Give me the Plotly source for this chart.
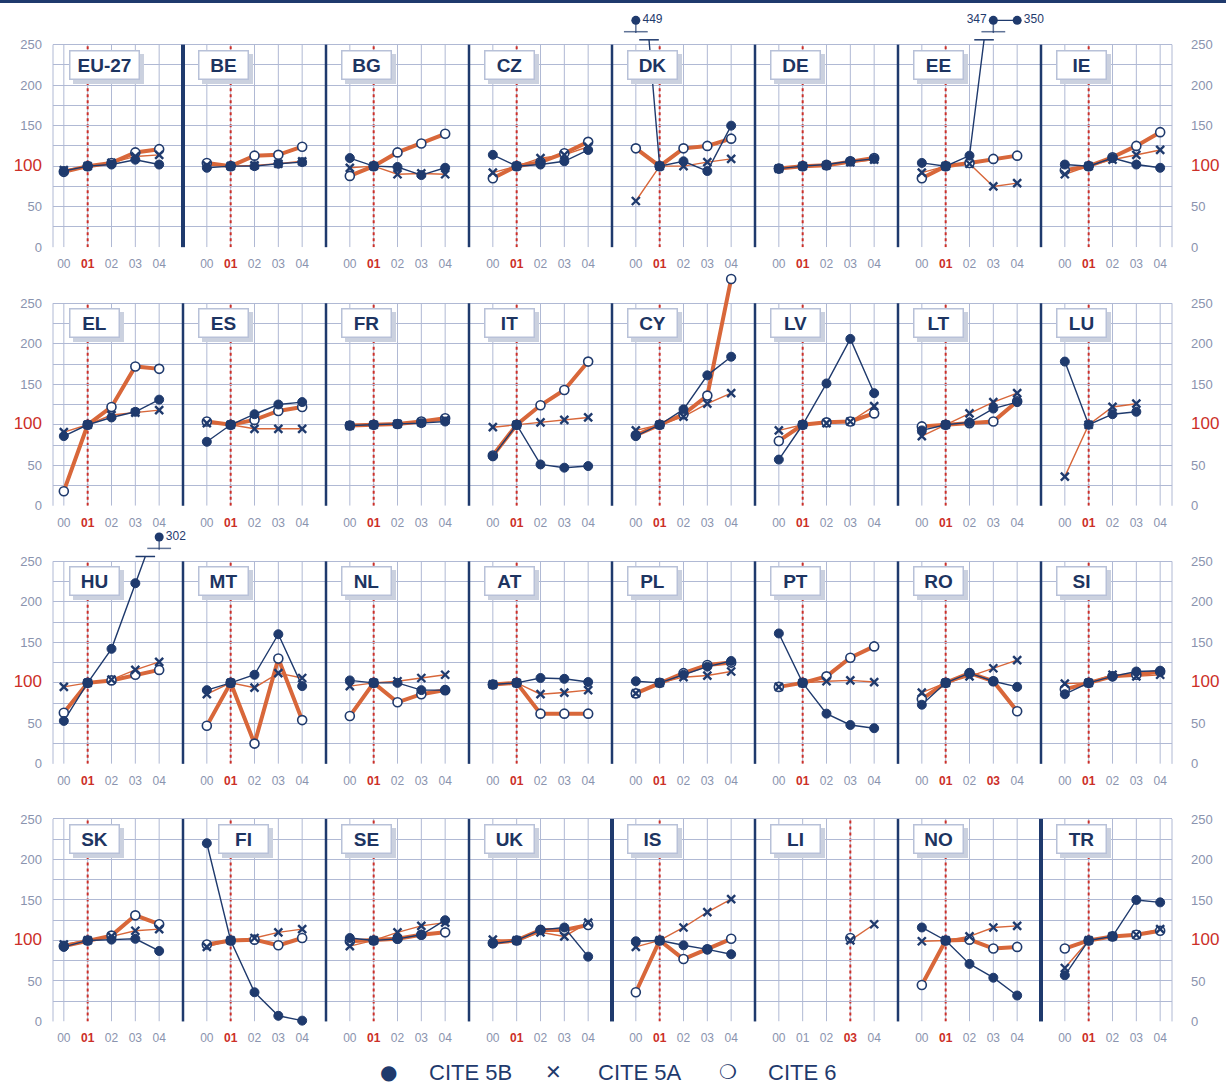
import plotly.graph_objects as go

# ---------------- data ----------------
PANELS = [
    ["EU-27", "BE", "BG", "CZ", "DK", "DE", "EE", "IE"],
    ["EL", "ES", "FR", "IT", "CY", "LV", "LT", "LU"],
    ["HU", "MT", "NL", "AT", "PL", "PT", "RO", "SI"],
    ["SK", "FI", "SE", "UK", "IS", "LI", "NO", "TR"],
]
YEAR_LABELS = ["00", "01", "02", "03", "04"]

cite_5b = {
    "EU-27": [94, 100, 102, 108, 102], "BE": [98, 100, 100, 103, 105],
    "BG": [110, 100, 99, 89, 98], "CZ": [114, 100, 102, 106, 120],
    "DK": [449, 100, 106, 94, 150], "DE": [97, 100, 102, 106, 109],
    "EE": [104, 100, 113, 347, 350], "IE": [102, 100, 110, 102, 98],
    "EL": [86, 100, 109, 116, 131], "ES": [79, 100, 113, 125, 128],
    "FR": [99, 100, 101, 102, 104], "IT": [61, 100, 51, 47, 49],
    "CY": [86, 100, 119, 161, 184], "LV": [57, 100, 151, 206, 139],
    "LT": [93, 100, 103, 120, 128], "LU": [178, 100, 113, 116, None],
    "HU": [53, 100, 142, 223, 302], "MT": [91, 100, 110, 160, 96],
    "NL": [103, 100, 100, 91, 91], "AT": [98, 100, 106, 105, 101],
    "PL": [102, 100, 110, 120, 127], "PT": [161, 100, 62, 48, 44],
    "RO": [73, 100, 112, 102, 95], "SI": [86, 100, 108, 114, 115],
    "SK": [92, 100, 101, 102, 87], "FI": [220, 100, 36, 7, 1],
    "SE": [103, 100, 102, 107, 125], "UK": [96, 100, 113, 116, 80],
    "IS": [99, 100, 94, 89, 83], "LI": [None, None, None, None, None],
    "NO": [116, 100, 71, 54, 32], "TR": [57, 100, 105, 150, 147],
}
cite_5a = {
    "EU-27": [95, 100, 104, 112, 114], "BE": [101, 100, 101, 103, 106],
    "BG": [98, 100, 90, 91, 90], "CZ": [92, 100, 110, 114, 124],
    "DK": [57, 100, 100, 105, 109], "DE": [97, 100, 101, 105, 108],
    "EE": [92, 100, 103, 75, 79], "IE": [90, 100, 108, 114, 120],
    "EL": [91, 100, 112, 115, 118], "ES": [102, 100, 95, 95, 95],
    "FR": [99, 100, 101, 103, 106], "IT": [97, 100, 103, 106, 109],
    "CY": [93, 100, 110, 126, 139], "LV": [93, 100, 102, 104, 123],
    "LT": [86, 100, 114, 128, 139], "LU": [36, 100, 122, 126, None],
    "HU": [95, 100, 104, 116, 126], "MT": [86, 100, 94, 112, 106],
    "NL": [96, 100, 102, 106, 110], "AT": [98, 100, 86, 88, 91],
    "PL": [87, 100, 107, 109, 114], "PT": [95, 100, 102, 103, 101],
    "RO": [88, 100, 108, 118, 128], "SI": [99, 100, 110, 108, 110],
    "SK": [95, 100, 105, 112, 114], "FI": [92, 100, 103, 110, 114],
    "SE": [93, 100, 110, 118, 122], "UK": [101, 100, 110, 105, 122],
    "IS": [92, 100, 116, 135, 151], "LI": [None, None, None, 100, 120],
    "NO": [99, 100, 105, 116, 118], "TR": [66, 100, 105, 107, 114],
}
cite_6 = {
    "EU-27": [93, 100, 104, 117, 121], "BE": [104, 100, 113, 114, 124],
    "BG": [88, 100, 117, 128, 140], "CZ": [85, 100, 105, 116, 130],
    "DK": [122, 100, 122, 125, 134], "DE": [97, 100, 101, 106, 110],
    "EE": [85, 100, 104, 109, 113], "IE": [95, 100, 111, 125, 142],
    "EL": [18, 100, 122, 172, 169], "ES": [104, 100, 106, 117, 122],
    "FR": [99, 100, 101, 104, 108], "IT": [62, 100, 124, 143, 178],
    "CY": [87, 100, 113, 136, 280], "LV": [80, 100, 103, 104, 114],
    "LT": [98, 100, 102, 104, 129], "LU": [None, None, None, None, None],
    "HU": [63, 100, 103, 110, 116], "MT": [47, 100, 25, 130, 54],
    "NL": [59, 100, 76, 86, 91], "AT": [98, 100, 62, 62, 62],
    "PL": [87, 100, 112, 122, 125], "PT": [95, 100, 108, 131, 145],
    "RO": [80, 100, 112, 102, 65], "SI": [92, 100, 108, 110, 114],
    "SK": [93, 100, 106, 131, 120], "FI": [95, 100, 101, 94, 103],
    "SE": [99, 100, 102, 107, 110], "UK": [97, 100, 113, 113, 119],
    "IS": [36, 100, 77, 89, 102], "LI": [None, None, None, 103, None],
    "NO": [45, 100, 101, 90, 92], "TR": [90, 100, 105, 107, 112],
}
BASE_YEAR = {"LI": "03"}            # default "01"
NO_BASE_LINE = ["PL", "UK"]
EXTRA_RED_TICKS = {"RO": ["03"]}
GROUP_START = ["BE", "IS", "TR"]    # thick separators before these
Y_TICKS = list(range(0, 251, 25))
Y_LABELS = ["0", "", "50", "", "100", "", "150", "", "200", "", "250"]
LEGEND = [("●", "CITE 5B"), ("✕", "CITE 5A"), ("❍", "CITE 6")]

# ---------------- style / geometry ----------------
W, H = 1226, 1090
NAVY = "#1f3a6d"
ORANGE = "#d8673a"
GRID = "#b0b9d4"
RED = "#cc2f28"
TICKGREY = "#8a93ae"
LABEL_COL = "#1d3461"
BOX_BORDER = "#b8c1d8"
SHADOW = "#cbd1df"
NARROW = "Liberation Sans Narrow, Arial Narrow, Liberation Sans, sans-serif"
BOLDF = "Liberation Sans, Arial, sans-serif"

PANEL_W = 143.0
FIRST_SEP = 183.0
UNIT = PANEL_W / 6
GRID_LEFT, GRID_RIGHT = 53.0, 1172.0
ZERO_PX = [249.0, 509.5, 769.5, 1029.0]
VPX = 0.816
GRID_TOP = 250
BREAK_AT = 300      # values above this are drawn with an axis break
CLIP_TOP = 256      # where a line to a broken value is cut
Y_TOP = 290
BROKEN_Y = 280
BAR_Y = 266
LABEL_TOP = 244
LABEL_X_DEFAULT = -0.38
LABEL_X = {"EU-27": 0.2, "EL": 0.2, "HU": 0.2, "SK": 0.2, "FI": 0.45}

SERIES = [
    (cite_6, dict(color=ORANGE, width=4),
     dict(symbol="circle", size=9, color="white", line=dict(color=NAVY, width=1.6))),
    (cite_5a, dict(color=ORANGE, width=1.4),
     dict(symbol="x-thin", size=8, color=NAVY, line=dict(color=NAVY, width=2.4))),
    (cite_5b, dict(color=NAVY, width=1.4),
     dict(symbol="circle", size=9, color=NAVY, line=dict(color=NAVY, width=1))),
]


def is_broken(v):
    return v is not None and v > BREAK_AT


def cut_line(vals):
    """Line through in-range values; segments towards broken values end at CLIP_TOP."""
    lx, ly, cuts = [], [], []
    for k, v in enumerate(vals):
        if v is None:
            lx.append(None); ly.append(None)
            continue
        prev = vals[k - 1] if k > 0 else None
        if is_broken(v):
            if prev is not None and not is_broken(prev):
                t = (CLIP_TOP - prev) / (v - prev)
                xi = (k - 1) + t
                lx += [xi, None]; ly += [CLIP_TOP, None]
                cuts.append(xi)
            continue
        if prev is not None and is_broken(prev):
            t = (CLIP_TOP - v) / (prev - v)
            xi = k - t
            lx += [None, xi]; ly += [None, CLIP_TOP]
            cuts.append(xi)
        lx.append(k); ly.append(v)
    return lx, ly, cuts


fig = go.Figure()
layout = dict(width=W, height=H, margin=dict(l=0, r=0, t=0, b=0),
              paper_bgcolor="white", plot_bgcolor="white", showlegend=False)
shapes, annotations = [], []

shapes.append(dict(type="rect", xref="paper", yref="paper", x0=0, x1=1,
                   y0=1 - 3 / H, y1=1, fillcolor=NAVY, line=dict(width=0), layer="above"))

xs = list(range(len(YEAR_LABELS)))

for r, row in enumerate(PANELS):
    z = ZERO_PX[r]
    ydom = [1 - z / H, 1 - (z - Y_TOP * VPX) / H]
    grid_y0, grid_y1 = 1 - z / H, 1 - (z - GRID_TOP * VPX) / H

    for gx in (GRID_LEFT, GRID_RIGHT):
        shapes.append(dict(type="line", xref="paper", yref="paper", x0=gx / W, x1=gx / W,
                           y0=grid_y0, y1=grid_y1, line=dict(color=GRID, width=1), layer="below"))

    for c, cc in enumerate(row):
        n = r * 8 + c + 1
        xa = "x" if n == 1 else f"x{n}"
        ya = "y" if n == 1 else f"y{n}"
        xkey = "xaxis" if n == 1 else f"xaxis{n}"
        ykey = "yaxis" if n == 1 else f"yaxis{n}"
        L = FIRST_SEP + PANEL_W * (c - 1)
        R = L + PANEL_W
        xr0, xr1 = -1.0, 5.0
        if c == 0:
            xr0 = -1 + (GRID_LEFT - L) / UNIT
            L = GRID_LEFT
        if c == 7:
            xr1 = 5 - (R - GRID_RIGHT) / UNIT
            R = GRID_RIGHT

        base = BASE_YEAR.get(cc, "01")
        reds = [base] + EXTRA_RED_TICKS.get(cc, [])
        ttext = [f"<b><span style='color:{RED}'>{y}</span></b>" if y in reds else y
                 for y in YEAR_LABELS]
        layout[xkey] = dict(domain=[L / W, R / W], range=[xr0, xr1], anchor=ya,
                            showgrid=False, zeroline=False, showline=False,
                            tickmode="array", tickvals=xs, ticktext=ttext, ticks="",
                            ticklabelstandoff=8,
                            tickfont=dict(family=NARROW, size=12, color=TICKGREY),
                            fixedrange=True)
        ylab = [f"<span style='color:{RED};font-size:17px'>{t}</span>" if t == "100" else t
                for t in Y_LABELS]
        layout[ykey] = dict(domain=ydom, range=[0, Y_TOP], anchor=xa,
                            tickmode="array", tickvals=Y_TICKS, ticktext=ylab,
                            showgrid=True, gridcolor=GRID, gridwidth=1,
                            zeroline=False, showline=False, ticks="",
                            showticklabels=(c in (0, 7)),
                            side="right" if c == 7 else "left",
                            ticklabelstandoff=18 if c == 7 else 10,
                            tickfont=dict(family=NARROW, size=13, color=TICKGREY),
                            fixedrange=True)

        for k in xs:
            shapes.append(dict(type="line", xref=xa, yref=ya, x0=k, x1=k, y0=0, y1=GRID_TOP,
                               line=dict(color=GRID, width=1), layer="below"))
        if cc not in NO_BASE_LINE:
            bk = YEAR_LABELS.index(base)
            shapes.append(dict(type="line", xref=xa, yref=ya, x0=bk, x1=bk, y0=0, y1=GRID_TOP,
                               line=dict(color=RED, width=2, dash="dot"), layer="below"))
        if c > 0:
            sx = (FIRST_SEP + PANEL_W * (c - 1)) / W
            shapes.append(dict(type="line", xref="paper", yref="paper", x0=sx, x1=sx,
                               y0=grid_y0, y1=grid_y1,
                               line=dict(color=NAVY, width=4 if cc in GROUP_START else 2.5),
                               layer="above"))

        # lines
        for s, lstyle, _ in SERIES:
            vals = s[cc]
            if all(v is None for v in vals):
                continue
            lx, ly, _c = cut_line(vals)
            fig.add_trace(go.Scatter(x=lx, y=ly, mode="lines", line=lstyle,
                                     xaxis=xa, yaxis=ya, hoverinfo="skip", connectgaps=False))
        # markers + axis-break decorations
        for s, lstyle, mstyle in SERIES:
            vals = s[cc]
            if all(v is None for v in vals):
                continue
            yd = [None if (v is None or is_broken(v)) else v for v in vals]
            fig.add_trace(go.Scatter(x=xs, y=yd, mode="markers", marker=mstyle,
                                     xaxis=xa, yaxis=ya, hoverinfo="skip", cliponaxis=False))
            brk = [k for k, v in enumerate(vals) if is_broken(v)]
            if not brk:
                continue
            col = lstyle["color"]
            yb = [BROKEN_Y if is_broken(v) else None for v in vals]
            fig.add_trace(go.Scatter(x=xs, y=yb, mode="lines+markers",
                                     line=dict(color=col, width=1.4),
                                     marker=dict(symbol="circle", size=9, color=col),
                                     xaxis=xa, yaxis=ya, hoverinfo="skip",
                                     connectgaps=False, cliponaxis=False))
            for k in brk:
                nxt_broken = (k + 1) in brk
                fig.add_trace(go.Scatter(
                    x=[k], y=[BROKEN_Y], mode="text", text=[f"  {vals[k]}  "],
                    textposition="middle left" if nxt_broken else "middle right",
                    textfont=dict(family=NARROW, size=12, color=NAVY),
                    xaxis=xa, yaxis=ya, hoverinfo="skip", cliponaxis=False))
                if (k - 1) not in brk:
                    fig.add_trace(go.Scatter(
                        x=[k, k], y=[(BROKEN_Y + BAR_Y) / 2, BAR_Y], mode="markers",
                        marker=dict(symbol=["line-ns", "line-ew"], size=[10, 17],
                                    line=dict(color=col, width=1.5)),
                        xaxis=xa, yaxis=ya, hoverinfo="skip", cliponaxis=False))
            _lx, _ly, cuts = cut_line(vals)
            fig.add_trace(go.Scatter(
                x=cuts, y=[CLIP_TOP] * len(cuts), mode="markers",
                marker=dict(symbol="line-ew", size=14, line=dict(color=col, width=1.5)),
                xaxis=xa, yaxis=ya, hoverinfo="skip", cliponaxis=False))

        # panel label box with shadow
        lx = LABEL_X.get(cc, LABEL_X_DEFAULT)
        bw = 64 if len(cc) > 2 else 44
        annotations.append(dict(
            xref=xa, yref=ya, x=lx, y=LABEL_TOP, xanchor="left", yanchor="top",
            text="", showarrow=False, width=bw, height=23,
            bgcolor=SHADOW, bordercolor=SHADOW, borderwidth=1.5, borderpad=2,
            xshift=4, yshift=-4))
        annotations.append(dict(
            xref=xa, yref=ya, x=lx, y=LABEL_TOP, xanchor="left", yanchor="top",
            text=f"<b>{cc}</b>", showarrow=False, width=bw, height=23, align="center",
            valign="middle",
            font=dict(family=BOLDF, size=19, color=LABEL_COL),
            bgcolor="white", bordercolor=BOX_BORDER, borderwidth=1.5, borderpad=2))

# legend
leg_sym_x = [388, 553, 728]
leg_txt_x = [427, 596, 766]
leg_y = 1 - 1080 / H
for (sym, lab), sx, tx in zip(LEGEND, leg_sym_x, leg_txt_x):
    annotations.append(dict(xref="paper", yref="paper", x=sx / W, y=leg_y, text=sym,
                            showarrow=False, xanchor="center", yanchor="middle",
                            font=dict(family="DejaVu Sans, sans-serif", size=20, color=NAVY)))
    annotations.append(dict(xref="paper", yref="paper", x=tx / W, y=leg_y, text=lab,
                            showarrow=False, xanchor="left", yanchor="middle",
                            font=dict(family=NARROW, size=22, color=NAVY)))

layout["shapes"] = shapes
layout["annotations"] = annotations
fig.update_layout(**layout)
fig.write_html("out.html")
